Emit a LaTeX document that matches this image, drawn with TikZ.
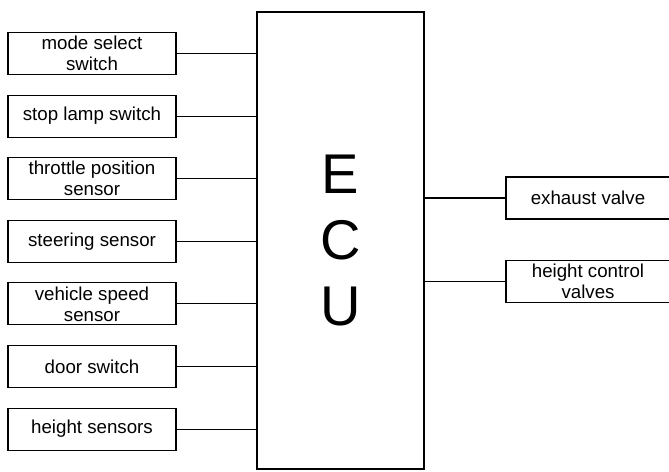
\documentclass[tikz,border=0pt]{standalone}
\usepackage{fontspec}
\setmainfont{Liberation Sans}
\begin{document}
\begin{tikzpicture}[x=1pt, y=-1pt,
    box/.style={draw, rectangle, line width=1.1pt, minimum width=168pt, minimum height=42pt,
                inner sep=0pt, text centered, align=center,
                font=\fontsize{18.7}{21}\selectfont},
    ecubox/.style={draw, rectangle, line width=1.3pt, minimum width=167pt, minimum height=457pt,
                inner sep=0pt, align=center, font=\fontsize{56}{66}\selectfont},
    wire/.style={line width=1.1pt}]
    \useasboundingbox (0, 0) rectangle (669, 471);
    % inputs
    \node[box] (mode)     at (92, 53.5)  {mode select\\switch};
    \node[box] (stop)     at (92, 116.1) {stop lamp switch};
    \node[box] (throttle) at (92, 178.7) {throttle position\\sensor};
    \node[box] (steer)    at (92, 241.3) {steering sensor};
    \node[box] (speed)    at (92, 303.9) {vehicle speed\\sensor};
    \node[box] (door)     at (92, 366.5) {door switch};
    \node[box] (hsens)    at (92, 429.1) {height sensors};
    % control unit
    \node[ecubox] (ecu) at (340.5, 240.5) {E\\C\\U};
    % outputs
    \node[box, minimum width=164pt] (exhaust) at (588, 198)   {exhaust valve};
    \node[box, minimum width=164pt] (hvalve)  at (588, 281.5) {height control\\valves};
    \foreach \a in {mode, stop, throttle, steer, speed, door, hsens}
        \draw[wire] (\a.east) -- (\a.east -| ecu.west);
    \foreach \b in {exhaust, hvalve}
        \draw[wire] (\b.west -| ecu.east) -- (\b.west);
\end{tikzpicture}
\end{document}
